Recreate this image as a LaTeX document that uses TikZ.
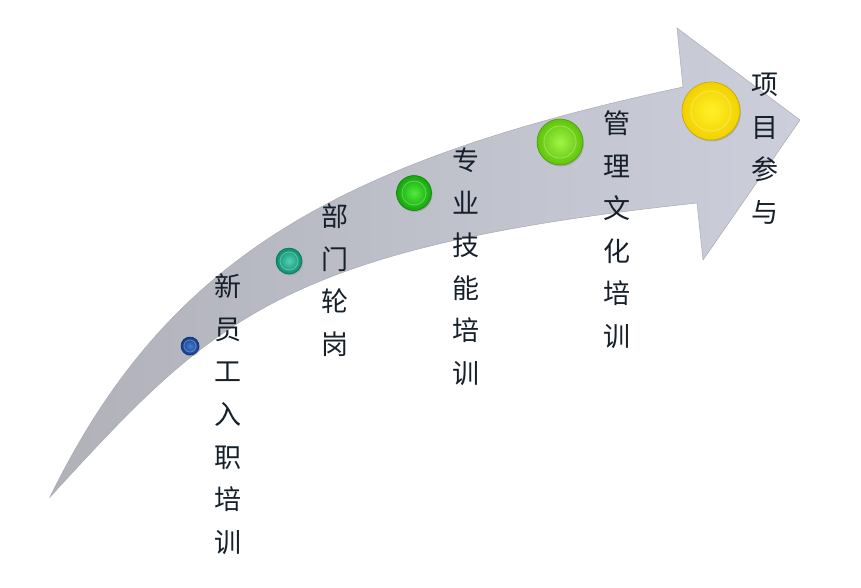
\documentclass[tikz,border=0pt]{standalone}
\usepackage{fontspec}
\newfontfamily\cjk{Noto Sans CJK SC}
\usetikzlibrary{positioning, shadows}
\definecolor{arrowL}{RGB}{176,177,185}
\definecolor{arrowR}{RGB}{204,207,219}
\definecolor{arrowE}{RGB}{168,170,180}
\definecolor{txt}{RGB}{22,32,42}
\definecolor{blueI}{RGB}{70,125,205}\definecolor{blueO}{RGB}{18,58,140}
\definecolor{tealI}{RGB}{80,210,180}\definecolor{tealO}{RGB}{12,140,110}
\definecolor{grnI}{RGB}{80,235,60}\definecolor{grnO}{RGB}{20,165,10}
\definecolor{limeI}{RGB}{160,245,70}\definecolor{limeO}{RGB}{95,195,10}
\definecolor{yelI}{RGB}{255,242,40}\definecolor{yelO}{RGB}{242,208,0}

\begin{document}
\begin{tikzpicture}[x=1pt, y=-1pt,
	knob/.style n args={3}{circle, inner sep=0pt, minimum size=#1, draw=#3!80!black, line width=0.6pt, inner color=#2, outer color=#3, drop shadow={opacity=0.35, shadow xshift=1pt, shadow yshift=-1.5pt}},
	lbl/.style={anchor=north, inner sep=0pt, align=center, text=txt, font=\cjk\fontsize{27}{42.5}\selectfont}]
	\useasboundingbox (0,0) rectangle (861,587);
	% curved arrow
	\shade[left color=arrowL, right color=arrowR, draw=arrowE, line width=0.5pt]
		(50,497) .. controls (165,262) and (333,162) .. (683,87)
		-- (677,28) -- (800,120) -- (703,260) -- (697,203)
		.. controls (277,248) and (211,322) .. (50,497) -- cycle;
	% buttons
	\node[knob={18pt}{blueI}{blueO}] (b1) at (190,346) {};
	\node[knob={26pt}{tealI}{tealO}] (b2) at (289,261) {};
	\node[knob={35pt}{grnI}{grnO}] (b3) at (414,193) {};
	\node[knob={46pt}{limeI}{limeO}] (b4) at (560,142) {};
	\node[knob={58pt}{yelI}{yelO}] (b5) at (711,111) {};
	\foreach \b/\r in {b1/6, b2/9, b3/12, b4/16, b5/20}
		\draw[white, opacity=0.3, line width=0.8pt] (\b) circle (\r);
	% labels
	\node[lbl] (t1) at (228,274) {新\\员\\工\\入\\职\\培\\训};
	\node[lbl] (t2) at (335,204) {部\\门\\轮\\岗};
	\node[lbl] (t3) at (466,148) {专\\业\\技\\能\\培\\训};
	\node[lbl] (t4) at (617,111) {管\\理\\文\\化\\培\\训};
	\node[lbl] (t5) at (765,73) {项\\目\\参\\与};
\end{tikzpicture}
\end{document}
